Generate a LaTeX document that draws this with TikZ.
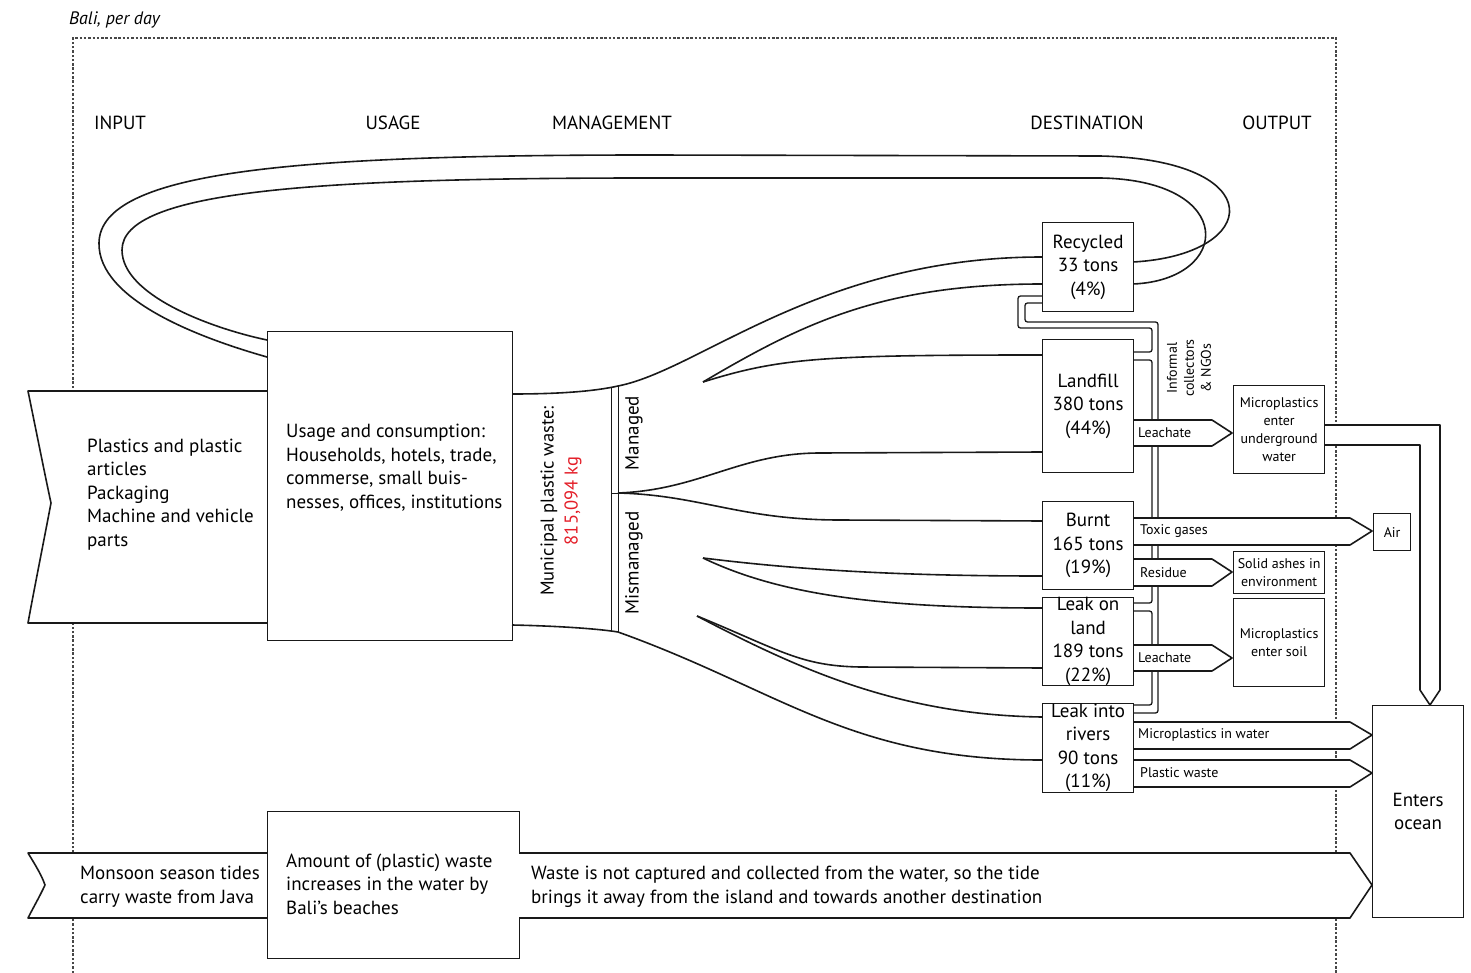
\documentclass[tikz,border=0pt]{standalone}
\usepackage{fontspec}
\setmainfont{PT Sans}
\definecolor{numred}{RGB}{228,30,40}
\definecolor{ink}{RGB}{25,25,25}
\begin{document}
\begin{tikzpicture}[x=1pt,y=-1pt,
  ln/.style={draw=ink, line width=1.6pt, line join=round},
  thin/.style={draw=ink, line width=1.3pt, rounded corners=2.5pt},
  box/.style={draw=ink, line width=1.2pt, fill=white, inner sep=0pt, align=center, font=\fontsize{19}{23.5}\selectfont},
  sbox/.style={draw=ink, line width=1.2pt, fill=white, inner sep=0pt, align=center, font=\fontsize{14}{18}\selectfont},
  band/.style={draw=ink, line width=1.6pt, fill=white, line join=round},
  blabel/.style={anchor=west, inner sep=0pt, font=\fontsize{14}{16}\selectfont},
  big/.style={inner sep=0pt, align=left, font=\fontsize{19}{23.5}\selectfont},
  head/.style={inner sep=0pt, font=\fontsize{19}{22}\selectfont}
]
\useasboundingbox (0,0) rectangle (1471,973);
\fill[white] (0,0) rectangle (1471,973);

% frame
\node[anchor=west, inner sep=0pt, font=\fontsize{18}{20}\selectfont\itshape] (title) at (69,20) {Bali, per day};
\draw[ink!80, line width=1.3pt, dash pattern=on 2.5pt off 1.8pt] (73,973) -- (73,38) -- (1336,38) -- (1336,973);

% headers
\node[head] (hin) at (120,123) {INPUT};
\node[head] (hus) at (393,123) {USAGE};
\node[head] (hma) at (612,123) {MANAGEMENT};
\node[head] (hde) at (1087,123) {DESTINATION};
\node[head] (hou) at (1277,123) {OUTPUT};

% recycling loop
\draw[ln] (1133,262) .. controls (1262,255) and (1272,160) .. (1100,156) -- (650,155)
  .. controls (300,155) and (100,170) .. (99,243) .. controls (98,300) and (200,338) .. (267,357);
\draw[ln] (1133,284) .. controls (1232,280) and (1238,180) .. (1100,178) -- (650,178)
  .. controls (320,178) and (122,190) .. (122,250) .. controls (122,295) and (210,328) .. (267,340);

% informal collectors trunk
\draw[thin] (1042,296) -- (1018,296) -- (1018,328) -- (1152,328) -- (1152,352) -- (1133,352);
\draw[thin] (1042,303) -- (1025,303) -- (1025,322) -- (1158,322) -- (1158,713) -- (1133,713);
\draw[thin] (1133,360) -- (1152,360) -- (1152,603) -- (1133,603);
\draw[thin] (1133,611) -- (1152,611) -- (1152,705) -- (1133,705);
\node[inner sep=0pt, rotate=90, align=center, font=\fontsize{14}{17}\selectfont] (inf) at (1189,368) {Informal\\collectors\\\& NGOs};

% input arrow
\draw[band] (267,391) -- (28,391) .. controls (38,440) and (46,480) .. (51,503) .. controls (44,540) and (34,590) .. (28,623) -- (267,623);
\node[big, anchor=base west] (intext) at (87,546) {Plastics and plastic\\articles\\Packaging\\Machine and vehicle\\parts};

% usage box
\node[box, anchor=north west, minimum width=245pt, minimum height=309pt] (usage) at (267,331) {};
\node[big, anchor=base west] (usetext) at (286,508) {Usage and consumption:\\Households, hotels, trade,\\commerse, small buis-\\nesses, offices, institutions};

% municipal band
\draw[ln] (512,394) .. controls (570,394) and (600,390) .. (618,386) .. controls (700,370) and (820,257) .. (1042,257);
\draw[ln] (512,625) .. controls (560,626) and (600,629) .. (618,632) .. controls (780,690) and (850,760) .. (1042,760);
\draw[draw=ink, line width=1pt] (611,387) -- (611,632);
\draw[draw=ink, line width=1pt] (618,386) -- (618,632);
\draw[draw=ink, line width=1pt] (611,493) -- (618,493);
\node[inner sep=0pt, rotate=90, align=center, font=\fontsize{18.5}{24}\selectfont] (muni) at (561,501) {Municipal plastic waste:\\\textcolor{numred}{815,094 kg}};
\node[inner sep=0pt, rotate=90, font=\fontsize{19}{20}\selectfont] (mng) at (634,433) {Managed};
\node[inner sep=0pt, rotate=90, font=\fontsize{19}{20}\selectfont] (mis) at (634,563) {Mismanaged};

% flows to destinations
\draw[ln] (703,382) .. controls (800,325) and (880,284) .. (1042,284);
\draw[ln] (703,382) .. controls (780,358) and (820,355) .. (1042,355);
\draw[ln] (618,493) .. controls (700,490) and (740,453) .. (820,453) -- (1042,452);
\draw[ln] (618,493) .. controls (700,495) and (740,520) .. (840,520) -- (1042,521);
\draw[ln] (703,558) .. controls (800,570) and (900,576) .. (1042,576);
\draw[ln] (703,558) .. controls (780,595) and (880,608) .. (1042,608);
\draw[ln] (697,616) .. controls (780,650) and (800,666) .. (860,667) -- (1042,668);
\draw[ln] (697,616) .. controls (800,670) and (900,715) .. (1042,717);

% output bands
\draw[band] (1133,420) -- (1212,420) -- (1232,433) -- (1212,446) -- (1133,446);
\draw[band] (1133,518) -- (1350,518) -- (1372,531) -- (1350,545) -- (1133,545);
\draw[band] (1133,559) -- (1212,559) -- (1232,572) -- (1212,586) -- (1133,586);
\draw[band] (1133,645) -- (1212,645) -- (1232,658) -- (1212,671) -- (1133,671);
\draw[band] (1133,722) -- (1350,722) -- (1372,735) -- (1350,749) -- (1133,749);
\draw[band] (1133,760) -- (1350,760) -- (1372,773) -- (1350,787) -- (1133,787);
\draw[band] (1324,425) -- (1440,425) -- (1440,690) -- (1430,705) -- (1420,690) -- (1420,445) -- (1324,445);
\node[blabel] (l1) at (1138,433) {Leachate};
\node[blabel] (l2) at (1140,531) {Toxic gases};
\node[blabel] (l3) at (1140,573) {Residue};
\node[blabel] (l4) at (1138,658) {Leachate};
\node[blabel] (l5) at (1138,735) {Microplastics in water};
\node[blabel] (l6) at (1140,773) {Plastic waste};

% destination boxes
\node[box, anchor=north west, minimum width=91pt, minimum height=89pt] (rec) at (1042,222) {Recycled\\33 tons\\(4\%)};
\node[box, anchor=north west, minimum width=91pt, minimum height=133pt] (land) at (1042,339) {Landfill\\380 tons\\(44\%)};
\node[box, anchor=north west, minimum width=91pt, minimum height=88pt] (burnt) at (1042,501) {Burnt\\165 tons\\(19\%)};
\node[box, anchor=north west, minimum width=91pt, minimum height=87pt] (lol) at (1042,597) {Leak on\\land\\189 tons\\(22\%)};
\node[box, anchor=north west, minimum width=91pt, minimum height=89pt] (lir) at (1042,703) {Leak into\\rivers\\90 tons\\(11\%)};

% output boxes
\node[sbox, anchor=north west, minimum width=91pt, minimum height=88pt] (mug) at (1233,385) {Microplastics\\enter\\underground\\water};
\node[sbox, anchor=north west, minimum width=37pt, minimum height=37pt] (air) at (1373,513) {Air};
\node[sbox, anchor=north west, minimum width=91pt, minimum height=42pt] (ash) at (1233,551) {Solid ashes in\\environment};
\node[sbox, anchor=north west, minimum width=91pt, minimum height=88pt] (soil) at (1233,598) {Microplastics\\enter soil};
\node[box, anchor=north west, minimum width=91pt, minimum height=212pt] (ocean) at (1372,705) {Enters\\ocean};

% bottom row
\draw[band] (267,853) -- (28,853) .. controls (36,866) and (42,876) .. (45,885) .. controls (40,896) and (33,908) .. (28,918) -- (267,918);
\node[big, anchor=base west] (montext) at (80,903) {Monsoon season tides\\carry waste from Java};
\node[box, anchor=north west, minimum width=252pt, minimum height=147pt] (amount) at (267,811) {};
\node[big, anchor=base west] (amtext) at (286,914) {Amount of (plastic) waste\\increases in the water by\\Bali’s beaches};
\draw[band] (519,853) -- (1350,853) -- (1372,885) -- (1350,918) -- (519,918);
\node[big, anchor=base west] (wtext) at (531,903) {Waste is not captured and collected from the water, so the tide\\brings it away from the island and towards another destination};
\end{tikzpicture}
\end{document}
